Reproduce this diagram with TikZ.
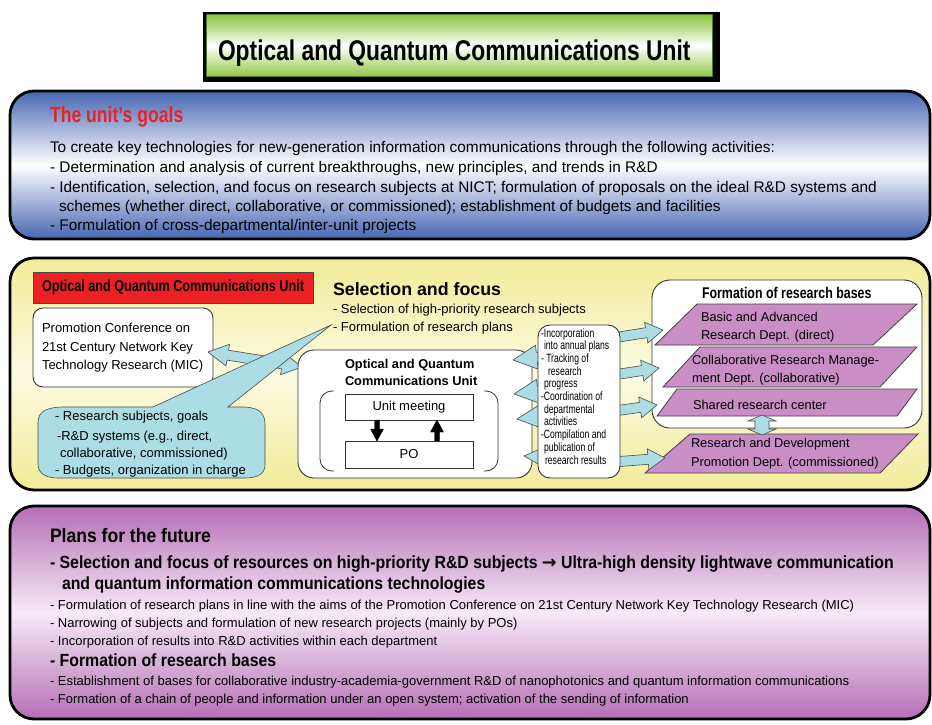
\documentclass[tikz,border=0pt]{standalone}
\usepackage{fontspec}
\setmainfont{Liberation Sans}
\newfontfamily\condfont{Liberation Sans}[FakeStretch=0.8]
\newfontfamily\semifont{Liberation Sans}[FakeStretch=0.9]
\newfontfamily\tightfont{Liberation Sans}[FakeStretch=0.72]
\newfontfamily\symfont{DejaVu Sans}
\usetikzlibrary{calc}

\definecolor{goalblue}{RGB}{70,102,178}
\definecolor{paleyellow}{RGB}{241,236,152}
\definecolor{lightyellow}{RGB}{252,251,226}
\definecolor{planpurple}{RGB}{180,110,181}
\definecolor{lightpurple}{RGB}{247,234,247}
\definecolor{titlegreen}{RGB}{141,198,63}
\definecolor{unitred}{RGB}{237,32,36}
\definecolor{headred}{RGB}{232,34,40}
\definecolor{arrowblue}{RGB}{172,220,228}
\definecolor{deptpurple}{RGB}{202,142,198}

% block arrow: [style]{from}{to}{shaft half width}{head half width}{head length}
\newcommand\blockarrow[6][]{%
  \coordinate (bh) at ($(#3)!#6!(#2)$);
  \filldraw[#1] ($(#2)!#4!90:(#3)$) -- ($(bh)!#4!90:(#3)$) -- ($(bh)!#5!90:(#3)$) -- (#3)
    -- ($(bh)!#5!-90:(#3)$) -- ($(bh)!#4!-90:(#3)$) -- ($(#2)!#4!-90:(#3)$) -- cycle;}
\newcommand\doublearrow[6][]{%
  \coordinate (bh) at ($(#3)!#6!(#2)$);
  \coordinate (bt) at ($(#2)!#6!(#3)$);
  \filldraw[#1] (#2) -- ($(bt)!#5!90:(#3)$) -- ($(bt)!#4!90:(#3)$) -- ($(bh)!#4!90:(#3)$)
    -- ($(bh)!#5!90:(#3)$) -- (#3) -- ($(bh)!#5!-90:(#3)$) -- ($(bh)!#4!-90:(#3)$)
    -- ($(bt)!#4!-90:(#3)$) -- ($(bt)!#5!-90:(#3)$) -- cycle;}

\tikzset{
  panel/.style={draw=black, line width=2.8pt, rounded corners=24pt, anchor=north west, inner sep=0pt, outer sep=0pt},
  box/.style={draw=black!80, fill=white, line width=0.9pt, anchor=north west, inner sep=0pt, outer sep=0pt},
  txt/.style={anchor=base west, inner sep=0pt, outer sep=0pt},
  goaltext/.style={txt, font={\fontsize{15.4}{18}\selectfont}},
  smalltext/.style={txt, font={\fontsize{13}{16}\selectfont}},
  depttext/.style={txt, font={\fontsize{12.8}{15}\selectfont}},
  tasktext/.style={txt, font={\tightfont\fontsize{12}{13}\selectfont}},
  planbold/.style={txt, font={\semifont\bfseries\fontsize{17.6}{20}\selectfont}},
  plantext/.style={txt, font={\fontsize{13}{16}\selectfont}},
  bluearrow/.style={fill=arrowblue, draw=black!70, line width=0.6pt},
  dept/.style={fill=deptpurple, draw=black!75, line width=0.8pt},
}

\begin{document}
\begin{tikzpicture}[x=1pt, y=-1pt]
\useasboundingbox (0,0) rectangle (932,725);

% title
\node[fill=black, anchor=north west, inner sep=0pt, minimum width=517pt, minimum height=70pt] (titleshadow) at (203,12) {};
\node[box, draw=titlegreen!60!black, line width=1pt, top color=titlegreen, bottom color=titlegreen, middle color=white,
  minimum width=506pt, minimum height=62pt] (titlebar) at (206,15) {};
\node[txt, font={\condfont\bfseries\fontsize{28.5}{30}\selectfont}] (titletext) at (218,60) {Optical and Quantum Communications Unit};

% the unit's goals
\node[panel, top color=goalblue, bottom color=goalblue, middle color=white, minimum width=920pt, minimum height=148pt] (goals) at (10,91) {};
\node[txt, text=headred, font={\condfont\bfseries\fontsize{22}{24}\selectfont}] (goalhead) at (50,122) {The unit’s goals};
\foreach \x/\y/\txt in {50/152/{To create key technologies for new-generation information communications through the following activities:},
    50/172/{- Determination and analysis of current breakthroughs, new principles, and trends in R\&D},
    50/192/{- Identification, selection, and focus on research subjects at NICT; formulation of proposals on the ideal R\&D systems and},
    59/211/{schemes (whether direct, collaborative, or commissioned); establishment of budgets and facilities},
    50/230/{- Formulation of cross-departmental/inter-unit projects}}
  \node[goaltext] (goal\y) at (\x,\y) {\txt};

% selection and focus
\node[panel, top color=paleyellow, bottom color=paleyellow, middle color=lightyellow, minimum width=920pt, minimum height=232pt] (focus) at (10,258) {};
\node[box, fill=unitred, draw=black!70, minimum width=280pt, minimum height=31pt,
  font={\condfont\bfseries\fontsize{15.8}{17}\selectfont}] (unitlabel) at (33,272) {Optical and Quantum Communications Unit};

\node[box, rounded corners=10pt, minimum width=180pt, minimum height=79pt] (promo) at (33,308) {};
\foreach \y/\txt in {332/{Promotion Conference on}, 351/{21st Century Network Key}, 369/{Technology Research (MIC)}}
  \node[smalltext] (promo\y) at (42,\y) {\txt};

\coordinate (promotip) at (208,352);
\coordinate (unittip) at (302,367);
\doublearrow[bluearrow]{promotip}{unittip}{5pt}{11pt}{20pt}

\coordinate (calltip) at (331,325);
\filldraw[bluearrow] (38,422) .. controls (38,411) and (48,407) .. (64,407) -- (153,407) -- (calltip) -- (228,407)
  -- (245,407) .. controls (259,408) and (265,413) .. (265,424) -- (265,465) .. controls (265,474) and (257,478) .. (245,478)
  -- (58,478) .. controls (45,478) and (38,473) .. (38,464) -- cycle;
\foreach \x/\y/\txt in {55/420/{- Research subjects, goals}, 57/440/{-R\&D systems (e.g., direct,},
    60/457/{collaborative, commissioned)}, 55/474/{- Budgets, organization in charge}}
  \node[smalltext] (topic\y) at (\x,\y) {\txt};

\node[txt, font={\bfseries\fontsize{17.8}{20}\selectfont}] (selhead) at (333,295) {Selection and focus};
\node[smalltext] (sel1) at (333,313) {- Selection of high-priority research subjects};
\node[smalltext] (sel2) at (333,331) {- Formulation of research plans};

% formation of research bases
\node[box, rounded corners=18pt, minimum width=270pt, minimum height=148pt] (bases) at (652,280) {};
\node[txt, font={\condfont\bfseries\fontsize{15.5}{17}\selectfont}] (baseshead) at (702,298) {Formation of research bases};
\filldraw[dept] (697,304) -- (917,304) -- (873,345) -- (655,345) -- cycle;
\filldraw[dept] (700,347) -- (917,347) -- (880,387) -- (663,387) -- cycle;
\filldraw[dept] (677,389) -- (917,389) -- (897,416) -- (657,416) -- cycle;
\filldraw[dept] (690,434) -- (918,434) -- (880,473) -- (645,473) -- cycle;
\node[depttext] (basic1) at (701,321) {Basic and Advanced};
\node[depttext] (basic2) at (701,339) {Research Dept. (direct)};
\node[depttext] (collab1) at (692,364) {Collaborative Research Manage-};
\node[depttext] (collab2) at (692,382) {ment Dept. (collaborative)};
\node[depttext] (shared) at (693,409) {Shared research center};
\node[depttext] (promo1) at (691,447) {Research and Development};
\node[depttext] (promo2) at (691,466) {Promotion Dept. (commissioned)};
\coordinate (sharedS) at (762,415);
\coordinate (rdN) at (762,435);
\doublearrow[bluearrow]{sharedS}{rdN}{7pt}{14pt}{6pt}

% optical and quantum communications unit
\node[box, rounded corners=16pt, minimum width=234pt, minimum height=128pt] (unit) at (298,350) {};
\node[txt, font={\bfseries\fontsize{12.8}{15}\selectfont}] (unithead1) at (345,368) {Optical and Quantum};
\node[txt, font={\bfseries\fontsize{12.8}{15}\selectfont}] (unithead2) at (345,385) {Communications Unit};
\draw[black!80, line width=0.8pt, rounded corners=12pt] (334,391) -- (320,391) -- (320,471) -- (334,471);
\draw[black!80, line width=0.8pt, rounded corners=12pt] (484,391) -- (498,391) -- (498,471) -- (484,471);
\node[box, minimum width=128pt, minimum height=26pt, font={\fontsize{13}{15}\selectfont}] (meet) at (345,394) {Unit meeting};
\node[box, minimum width=128pt, minimum height=27pt, font={\fontsize{13}{15}\selectfont}] (po) at (345,441) {PO};
\coordinate (meetout) at ($(meet.south west)+(32,0)$);
\coordinate (poin) at ($(po.north west)+(32,0)$);
\coordinate (poout) at ($(po.north west)+(92,0)$);
\coordinate (meetin) at ($(meet.south west)+(92,0)$);
\blockarrow[fill=black]{meetout}{poin}{2.5pt}{6.5pt}{12pt}
\blockarrow[fill=black]{poout}{meetin}{2.5pt}{6.5pt}{12pt}

% arrows round the activities
\foreach \i/\sy/\tx/\ty in {1/354/513/360, 2/388/514/394, 3/414/517/419, 4/458/524/456} {
  \coordinate (taskl\i) at (565,\sy);
  \coordinate (unitr\i) at (\tx,\ty);
  \blockarrow[bluearrow]{taskl\i}{unitr\i}{5pt}{12pt}{24pt}
}
\foreach \i/\sy/\tx/\ty in {1/340/663/330, 2/377/659/368, 3/413/657/405, 4/463/665/458} {
  \coordinate (taskr\i) at (600,\sy);
  \coordinate (dept\i) at (\tx,\ty);
  \blockarrow[bluearrow]{taskr\i}{dept\i}{5pt}{10.5pt}{17pt}
}
\node[box, rounded corners=12pt, minimum width=82pt, minimum height=153pt] (tasks) at (538,325) {};
\foreach \x/\txt [count=\i] in {541/{-Incorporation}, 544/{into annual plans}, 541/{- Tracking of}, 548/{research},
    544/{progress}, 541/{-Coordination of}, 544/{departmental}, 544/{activities}, 541/{-Compilation and},
    544/{publication of}, 545/{research results}}
  \node[tasktext] (task\i) at (\x,{324.3+12.7*\i}) {\txt};

% plans for the future
\node[panel, top color=planpurple, bottom color=planpurple, middle color=lightpurple, minimum width=920pt, minimum height=213pt] (plans) at (10,506) {};
\node[txt, font={\semifont\bfseries\fontsize{19.5}{22}\selectfont}] (planhead) at (50,542) {Plans for the future};
\node[planbold] (planA1) at (50,568) {- Selection and focus of resources on high-priority R\&D subjects {\symfont\bfseries →} Ultra-high density lightwave communication};
\node[planbold] (planA2) at (62,589) {and quantum information communications technologies};
\foreach \y/\txt in {609/{- Formulation of research plans in line with the aims of the Promotion Conference on 21st Century Network Key Technology Research (MIC)},
    627/{- Narrowing of subjects and formulation of new research projects (mainly by POs)},
    645/{- Incorporation of results into R\&D activities within each department}}
  \node[plantext] (planA\y) at (50,\y) {\txt};
\node[planbold] (planB) at (50,666) {- Formation of research bases};
\foreach \y/\txt in {685/{- Establishment of bases for collaborative industry-academia-government R\&D of nanophotonics and quantum information communications},
    703/{- Formation of a chain of people and information under an open system; activation of the sending of information}}
  \node[plantext] (planB\y) at (50,\y) {\txt};

\end{tikzpicture}
\end{document}
